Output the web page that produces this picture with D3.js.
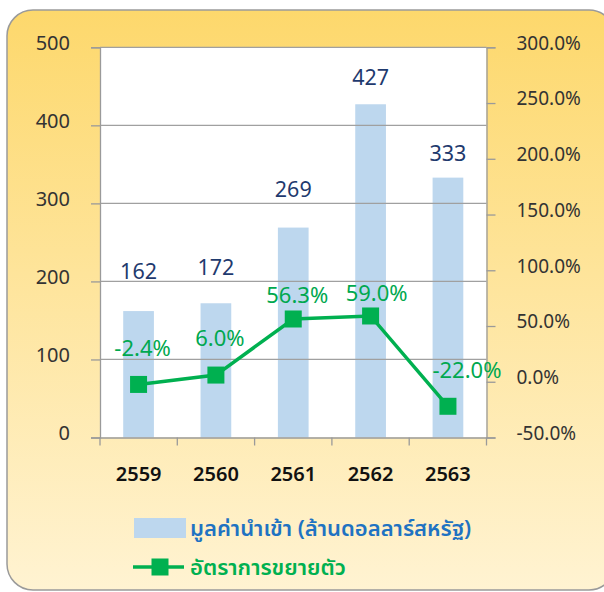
<!DOCTYPE html>
<html><head><meta charset="utf-8">
<script src="https://cdn.jsdelivr.net/npm/d3@7"></script>
<style>
body{margin:0;background:#fff;}
svg{display:block;}
text{font-family:"Noto Sans Thai","Noto Sans","Open Sans",sans-serif;}
</style></head>
<body>
<svg id="c" width="604" height="592"></svg>
<script>
const years = ["2559","2560","2561","2562","2563"];
const importValues = [162, 172, 269, 427, 333];
const growthRates = [-2.4, 6.0, 56.3, 59.0, -22.0];
const leftTicks = [0, 100, 200, 300, 400, 500];
const rightTicks = [-50, 0, 50, 100, 150, 200, 250, 300];
const barLabelDy = [-32, -28, -31, -19, -17];
const lineLabelDy = [-28, -29, -16, -15, -28];
const lineLabelDx = [4, 4, 4, 6, 19];
const legendLabels = ["มูลค่านำเข้า (ล้านดอลลาร์สหรัฐ)", "อัตราการขยายตัว"];

const svg = d3.select("#c");
const defs = svg.append("defs");
const grad = defs.append("linearGradient").attr("id","bg").attr("x1",0).attr("y1",0).attr("x2",0).attr("y2",1);
grad.append("stop").attr("offset","0%").attr("stop-color","#FDD86C");
grad.append("stop").attr("offset","45%").attr("stop-color","#FEE49A");
grad.append("stop").attr("offset","100%").attr("stop-color","#FFF3D2");

svg.append("rect").attr("x",7).attr("y",10).attr("width",608).attr("height",580)
  .attr("rx",26).attr("fill","url(#bg)").attr("stroke","#9a9a9a").attr("stroke-width",1.5);

const m = {l:100, r:486.5, t:47.3, b:437.5};
const x = d3.scaleBand().domain(years).range([m.l, m.r]).paddingInner(0.603).paddingOuter(0.30);
const xb = d3.scaleBand().domain(years).range([m.l, m.r]);
const yL = d3.scaleLinear().domain([0,500]).range([m.b, m.t]);
const yR = d3.scaleLinear().domain([-50,300]).range([m.b, m.t]);

svg.append("rect").attr("x",m.l).attr("y",m.t).attr("width",m.r-m.l).attr("height",m.b-m.t).attr("fill","#fff");

// bars
svg.selectAll(".bar").data(importValues).enter().append("rect")
  .attr("x",(d,i)=>x(years[i])).attr("width",x.bandwidth())
  .attr("y",d=>yL(d)).attr("height",d=>yL(0)-yL(d)).attr("fill","#BDD7EE");

// gridlines
svg.selectAll(".grid").data(leftTicks.filter(t=>t>0)).enter().append("line")
  .attr("x1",m.l).attr("x2",m.r).attr("y1",d=>yL(d)).attr("y2",d=>yL(d))
  .attr("stroke","#a0a0a0").attr("stroke-width",1.3);

const axisColor = "#9a9a9a";
const numFont = "'Open Sans',sans-serif";
// left axis
const gL = svg.append("g").attr("transform",`translate(${m.l},0)`)
  .call(d3.axisLeft(yL).tickValues(leftTicks).tickSize(9).tickPadding(21));
gL.select(".domain").attr("stroke",axisColor).attr("stroke-width",1.3);
gL.selectAll(".tick line").attr("stroke",axisColor).attr("stroke-width",1.3);
gL.selectAll("text").attr("font-size",20).attr("fill","#333").attr("font-family",numFont).attr("dy","0.1em");

// right axis
const gR = svg.append("g").attr("transform",`translate(${m.r},0)`)
  .call(d3.axisRight(yR).tickValues(rightTicks).tickSize(9).tickPadding(21).tickFormat(d=>d.toFixed(1)+"%"));
gR.select(".domain").attr("stroke",axisColor).attr("stroke-width",1.3);
gR.selectAll(".tick line").attr("stroke",axisColor).attr("stroke-width",1.3);
gR.selectAll("text").attr("font-size",19).attr("fill","#333").attr("font-family",numFont).attr("dy","0.1em");

// bottom axis
const gB = svg.append("g").attr("transform",`translate(0,${m.b})`)
  .call(d3.axisBottom(xb).tickSize(0).tickPadding(29));
gB.select(".domain").attr("stroke",axisColor).attr("stroke-width",1.3);
gB.selectAll("text").attr("font-size",20).attr("font-weight","600").attr("fill","#111").attr("font-family",numFont);
const bounds = years.map(y=>xb(y)).concat([m.r]);
gB.selectAll(".sep").data(bounds).enter().append("line")
  .attr("x1",d=>d).attr("x2",d=>d).attr("y1",0).attr("y2",8)
  .attr("stroke",axisColor).attr("stroke-width",1.3);

// bar labels
svg.selectAll(".bl").data(importValues).enter().append("text")
  .attr("x",(d,i)=>x(years[i])+x.bandwidth()/2).attr("y",(d,i)=>yL(d)+barLabelDy[i])
  .attr("text-anchor","middle").attr("font-size",21.5).attr("fill","#1F3A6E")
  .attr("font-family",numFont).text(d=>d);

// line
const cx = i => x(years[i]) + x.bandwidth()/2;
const line = d3.line().x((d,i)=>cx(i)).y(d=>yR(d));
svg.append("path").datum(growthRates).attr("d",line).attr("fill","none")
  .attr("stroke","#00B050").attr("stroke-width",3.5);
svg.selectAll(".mk").data(growthRates).enter().append("rect")
  .attr("x",(d,i)=>cx(i)-8.5).attr("y",d=>yR(d)-8.5).attr("width",17).attr("height",17).attr("fill","#00B050");
svg.selectAll(".ll").data(growthRates).enter().append("text")
  .attr("x",(d,i)=>cx(i)+lineLabelDx[i]).attr("y",(d,i)=>yR(d)+lineLabelDy[i])
  .attr("text-anchor","middle").attr("font-size",22).attr("fill","#00A84F")
  .attr("font-family",numFont).text(d=>d.toFixed(1)+"%");

// legend
svg.append("rect").attr("x",134).attr("y",518).attr("width",52).attr("height",20).attr("fill","#BDD7EE");
svg.append("text").attr("x",190).attr("y",536).attr("font-size",22).attr("font-weight","600").attr("fill","#1F73C2").text(legendLabels[0]);
svg.append("line").attr("x1",133).attr("x2",184).attr("y1",567).attr("y2",567).attr("stroke","#00B050").attr("stroke-width",3.5);
svg.append("rect").attr("x",151.5).attr("y",558.5).attr("width",17).attr("height",17).attr("fill","#00B050");
svg.append("text").attr("x",190).attr("y",575).attr("font-size",22).attr("font-weight","600").attr("fill","#00B050").text(legendLabels[1]);
</script>
</body></html>
